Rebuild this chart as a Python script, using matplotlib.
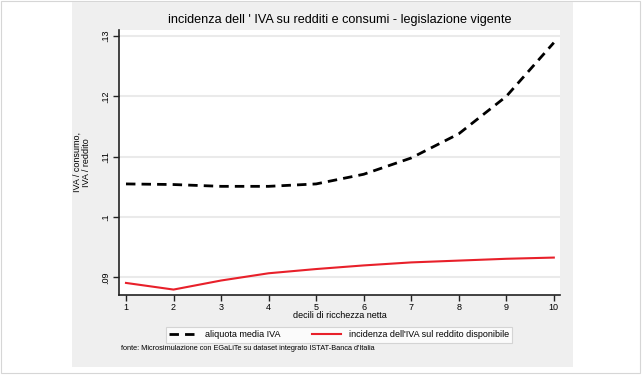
import matplotlib
matplotlib.use("Agg")
import matplotlib.pyplot as plt
from matplotlib.patches import Rectangle

plt.rcParams["font.family"] = ["Liberation Sans", "DejaVu Sans"]

decili = [1, 2, 3, 4, 5, 6, 7, 8, 9, 10]
aliquota_media = [0.1055, 0.1054, 0.1051, 0.1051, 0.1055, 0.1071, 0.1098, 0.1138, 0.1200, 0.1289]
incidenza_reddito = [0.0891, 0.0880, 0.0895, 0.0907, 0.0914, 0.0920, 0.0925, 0.0928, 0.0931, 0.0933]
y_ticks = [0.09, 0.10, 0.11, 0.12, 0.13]
y_tick_labels = [".09", ".1", ".11", ".12", ".13"]

W, H = 643, 375
fig = plt.figure(figsize=(W / 100, H / 100), dpi=100)
fig.patch.set_facecolor("white")

# outer frame and grey stata-like panel, kept behind the axes
fig.add_artist(Rectangle((0.5 / W, 1 - 373 / H), 639 / W, 372 / H, transform=fig.transFigure,
                         facecolor="white", edgecolor="#d6d6d6", linewidth=0.8, zorder=-3))
fig.add_artist(Rectangle((72 / W, 1 - 367 / H), 501 / W, 365 / H, transform=fig.transFigure,
                         facecolor="#efefef", edgecolor="none", zorder=-2))

ax = fig.add_axes([119 / W, 1 - 295 / H, 441 / W, 265 / H])
ax.set_facecolor("white")

ax.plot(decili, aliquota_media, color="black", linewidth=2.0, dashes=(3.4, 2.2),
        label="aliquota media IVA")
ax.plot(decili, incidenza_reddito, color="#e8202a", linewidth=1.5,
        label="incidenza dell'IVA sul reddito disponibile")

ax.set_xlim(0.853, 10.13)
ax.set_ylim(0.0871, 0.131)
ax.set_xticks(decili)
ax.set_yticks(y_ticks)
ax.set_yticklabels(y_tick_labels, rotation=90, va="center")
ax.grid(axis="y", color="#eaeaea", linewidth=1.5)
ax.set_axisbelow(True)

for side in ["top", "right"]:
    ax.spines[side].set_visible(False)
for side in ["left", "bottom"]:
    ax.spines[side].set_linewidth(1.2)
    ax.spines[side].set_color("#222222")
ax.tick_params(axis="both", labelsize=6.5, length=4, width=1, color="#222222", pad=2)

ax.set_xlabel("decili di ricchezza netta", fontsize=6.5, labelpad=-1)
ax.set_ylabel("IVA / consumo,\nIVA / reddito", fontsize=6.5, labelpad=8, linespacing=1.0)
ax.set_title("incidenza dell ' IVA su redditi e consumi - legislazione vigente",
             fontsize=9.1, pad=5)

leg = ax.legend(loc="upper center", bbox_to_anchor=(339 / W, 1 - 322 / H),
                bbox_transform=fig.transFigure, ncol=2, fontsize=6.5, frameon=True,
                fancybox=False, edgecolor="#cccccc", handlelength=3.2, columnspacing=3.5,
                borderpad=0.4, handletextpad=0.8)
leg.get_frame().set_linewidth(0.8)

fig.text(121 / W, 1 - 349 / H,
         "fonte: Microsimulazione con EGaLiTe su dataset integrato ISTAT-Banca d'Italia",
         fontsize=5.3, va="center", ha="left")

fig.savefig("out.png", dpi=100)
